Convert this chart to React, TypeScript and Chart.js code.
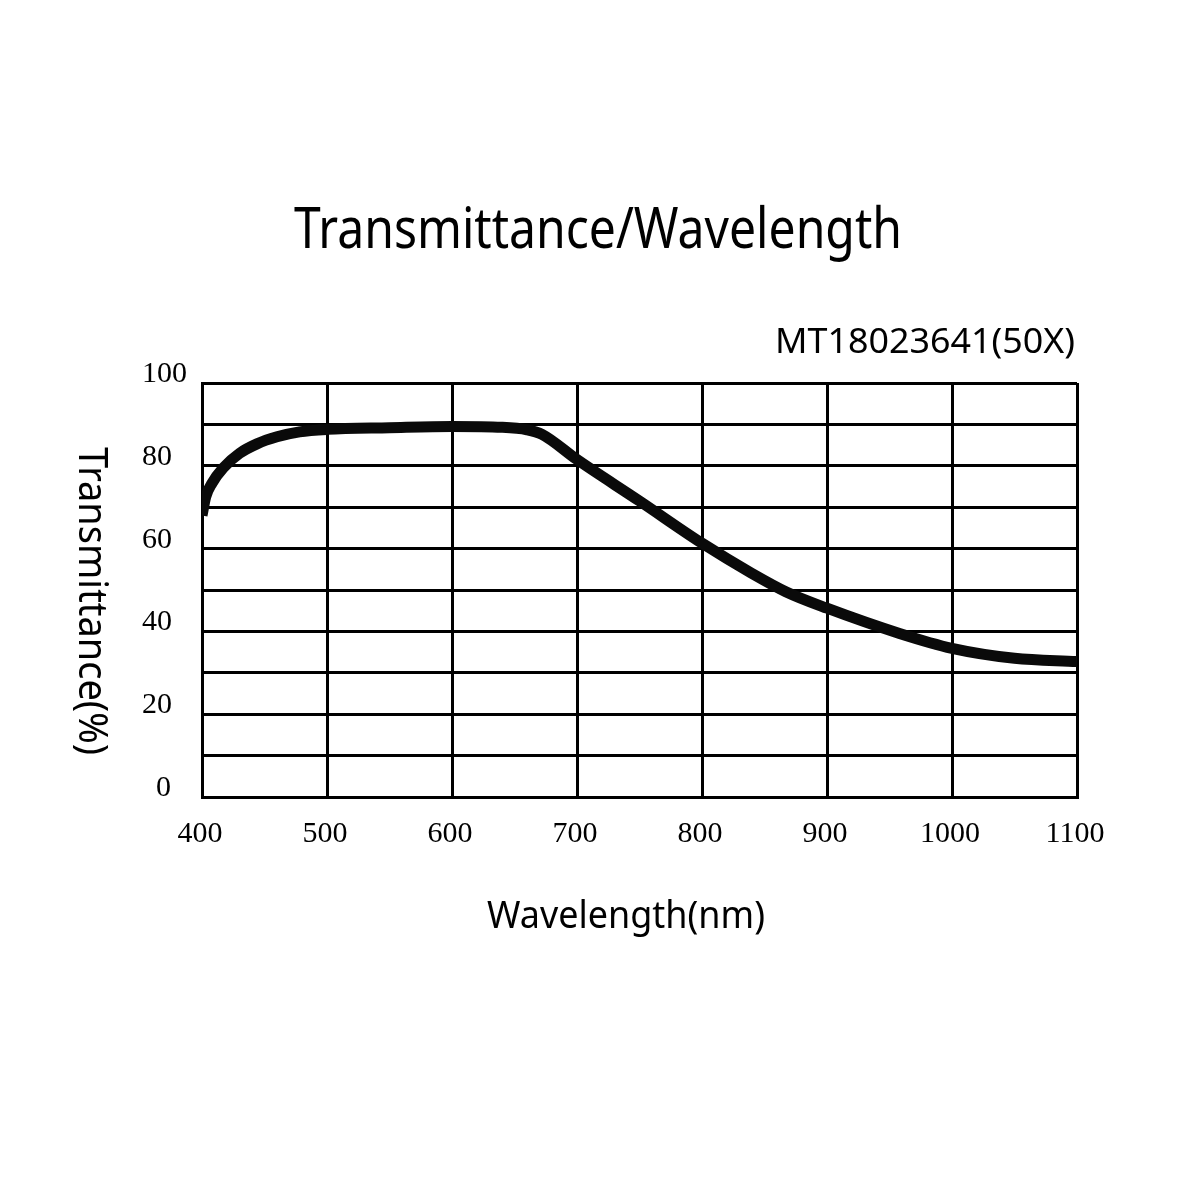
import React, { useEffect, useRef } from "react";
import { Chart, registerables } from "chart.js";

Chart.register(...registerables);

const wavelengths = [400, 403, 408, 417, 430, 444, 460, 478, 500, 550, 600, 640, 660, 672, 700, 750, 800, 840, 867, 900, 958, 1000, 1050, 1100];
const transmittance = [68, 72.5, 75.8, 79.5, 83, 85.3, 87, 88.2, 88.8, 89.2, 89.5, 89.3, 88.7, 87.6, 81.5, 71.5, 61.3, 54, 49.6, 45.6, 39.5, 35.9, 33.5, 32.7];

const xTickValues = [400, 500, 600, 700, 800, 900, 1000, 1100];
const xTickLabels = ["400", "500", "600", "700", "800", "900", "1000", "1100"];
const yTickValues = [0, 20, 40, 60, 80, 100];
const yTickLabels = ["0", "20", "40", "60", "80", "100"];

const titleText = "Transmittance/Wavelength";
const modelText = "MT18023641(50X)";
const xTitleText = "Wavelength(nm)";
const yTitleText = "Transmittance(%)";

const SANS = '"Noto Sans", "DejaVu Sans", sans-serif';
const SERIF = '"Liberation Serif", "DejaVu Serif", serif';

function fitText(ctx: CanvasRenderingContext2D, text: string, size: number, left: number, baseline: number, width: number, rotate = 0) {
  ctx.save();
  ctx.font = `${size}px ${SANS}`;
  ctx.fillStyle = "#000";
  ctx.textAlign = "left";
  ctx.textBaseline = "alphabetic";
  const w = ctx.measureText(text).width;
  ctx.translate(left, baseline);
  if (rotate) ctx.rotate(rotate);
  ctx.scale(width / w, 1);
  ctx.fillText(text, 0, 0);
  ctx.restore();
}

const textPlugin = {
  id: "customText",
  afterDraw(chart: any) {
    const ctx: CanvasRenderingContext2D = chart.ctx;
    const xs = chart.scales.x;
    const ys = chart.scales.y;
    fitText(ctx, titleText, 57, 294, 248, 608);
    fitText(ctx, modelText, 35, 775, 353, 300);
    fitText(ctx, xTitleText, 39, 487, 928, 278);
    fitText(ctx, yTitleText, 40, 79, 447, 308, Math.PI / 2);

    ctx.save();
    ctx.fillStyle = "#000";
    ctx.textBaseline = "alphabetic";
    ctx.font = `30px ${SERIF}`;
    ctx.textAlign = "center";
    xTickValues.forEach((v, i) => {
      ctx.fillText(xTickLabels[i], xs.getPixelForValue(v) - 2, 842);
    });
    ctx.font = `30px ${SERIF}`;
    yTickValues.forEach((v, i) => {
      const lab = yTickLabels[i];
      const y = ys.getPixelForValue(v) - 1;
      if (lab.length > 1) {
        ctx.textAlign = "left";
        ctx.fillText(lab, 142, y);
      } else {
        ctx.textAlign = "right";
        ctx.fillText(lab, 171, y);
      }
    });
    ctx.restore();
  },
};

export default function App() {
  const ref = useRef<HTMLCanvasElement | null>(null);
  useEffect(() => {
    if (!ref.current) return;
    const chart = new Chart(ref.current, {
      type: "line",
      data: {
        datasets: [
          {
            data: wavelengths.map((w, i) => ({ x: w, y: transmittance[i] })),
            borderColor: "#0a0a0a",
            borderWidth: 11,
            pointRadius: 0,
            fill: false,
            cubicInterpolationMode: "monotone",
            borderCapStyle: "butt",
            borderJoinStyle: "round",
            clip: 0,
          } as any,
        ],
      },
      options: {
        animation: false,
        responsive: true,
        maintainAspectRatio: false,
        devicePixelRatio: 1,
        layout: { padding: { left: 202, right: 123, top: 383, bottom: 403 } },
        plugins: { legend: { display: false }, title: { display: false }, tooltip: { enabled: false } },
        events: [],
        scales: {
          x: {
            type: "linear",
            min: 400,
            max: 1100,
            ticks: { stepSize: 100, display: false },
            grid: { color: "#000", lineWidth: 3, drawTicks: false },
            border: { display: true, color: "#000", width: 3 },
          },
          y: {
            type: "linear",
            min: 0,
            max: 100,
            ticks: { stepSize: 10, display: false },
            grid: { color: "#000", lineWidth: 3, drawTicks: false },
            border: { display: true, color: "#000", width: 3 },
          },
        },
      },
      plugins: [textPlugin],
    });
    return () => chart.destroy();
  }, []);
  return (
    <div style={{ position: "fixed", left: 0, top: 0, width: 1200, height: 1200, background: "#fff" }}>
      <canvas ref={ref} />
    </div>
  );
}
